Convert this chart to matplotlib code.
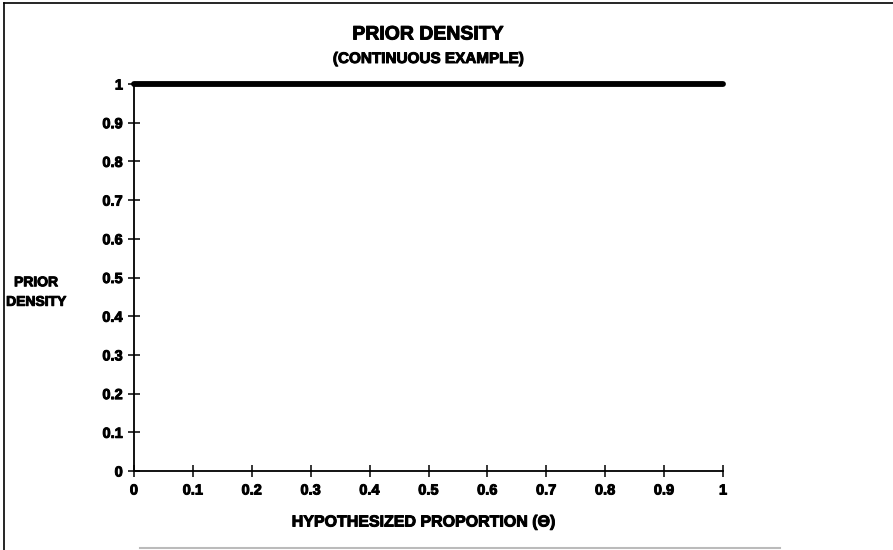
import matplotlib
matplotlib.use("Agg")
import matplotlib.pyplot as plt
from matplotlib.lines import Line2D
import matplotlib.patheffects as pe

plt.rcParams['font.family'] = ['Liberation Sans', 'DejaVu Sans']

theta = [0.0, 1.0]
density = [1.0, 1.0]
x_ticks = [0, 0.1, 0.2, 0.3, 0.4, 0.5, 0.6, 0.7, 0.8, 0.9, 1]
y_ticks = [0, 0.1, 0.2, 0.3, 0.4, 0.5, 0.6, 0.7, 0.8, 0.9, 1]
x_ticklabels = ['0', '0.1', '0.2', '0.3', '0.4', '0.5', '0.6', '0.7', '0.8', '0.9', '1']
y_ticklabels = ['0', '0.1', '0.2', '0.3', '0.4', '0.5', '0.6', '0.7', '0.8', '0.9', '1']

heavy = [pe.withStroke(linewidth=0.7, foreground='black')]

fig = plt.figure(figsize=(8.93, 5.5), dpi=100)
W, H = 893, 550
ax = fig.add_axes([134 / W, 1 - 471 / H, (723 - 134) / W, (471 - 84) / H])

ax.plot(theta, density, color='black', lw=4.2, solid_capstyle='round', clip_on=False, zorder=5)

ax.set_xlim(0, 1)
ax.set_ylim(0, 1)
ax.set_xticks(x_ticks)
ax.set_yticks(y_ticks)
ax.set_xticklabels(x_ticklabels, fontsize=10.5, fontweight='bold')
ax.set_yticklabels(y_ticklabels, fontsize=10.5, fontweight='bold')
for t in ax.get_xticklabels() + ax.get_yticklabels():
    t.set_path_effects(heavy)
ax.tick_params(direction='inout', length=8, width=1.1, color='black', pad=4)
ax.tick_params(axis='x', pad=5)
for s in ['top', 'right']:
    ax.spines[s].set_visible(False)
for s in ['left', 'bottom']:
    ax.spines[s].set_linewidth(1.3)

fig.text(428 / W, 1 - 35 / H, 'PRIOR DENSITY', ha='center', va='center',
         fontsize=14, fontweight='bold', path_effects=heavy)
fig.text(428 / W, 1 - 59 / H, '(CONTINUOUS EXAMPLE)', ha='center', va='center',
         fontsize=11, fontweight='bold', path_effects=heavy)
fig.text(424 / W, 1 - 522 / H, 'HYPOTHESIZED PROPORTION (\u0398)', ha='center', va='center',
         fontsize=11.5, fontweight='bold', path_effects=heavy)
fig.text(36 / W, 1 - 292 / H, 'PRIOR\nDENSITY', ha='center', va='center',
         fontsize=10, fontweight='bold', linespacing=1.5, path_effects=heavy)

# page frame (left and top edges of the scanned box, faint bottom edge)
fig.add_artist(Line2D([4 / W, 4 / W], [1 - 3 / H, 0], transform=fig.transFigure,
                      color='black', lw=1.2))
fig.add_artist(Line2D([4 / W, 1], [1 - 3 / H, 1 - 3 / H], transform=fig.transFigure,
                      color='black', lw=1.2))
fig.add_artist(Line2D([140 / W, 780 / W], [1 - 548 / H, 1 - 548 / H], transform=fig.transFigure,
                      color='#bbbbbb', lw=1.5))

fig.savefig('out.png', dpi=100)
